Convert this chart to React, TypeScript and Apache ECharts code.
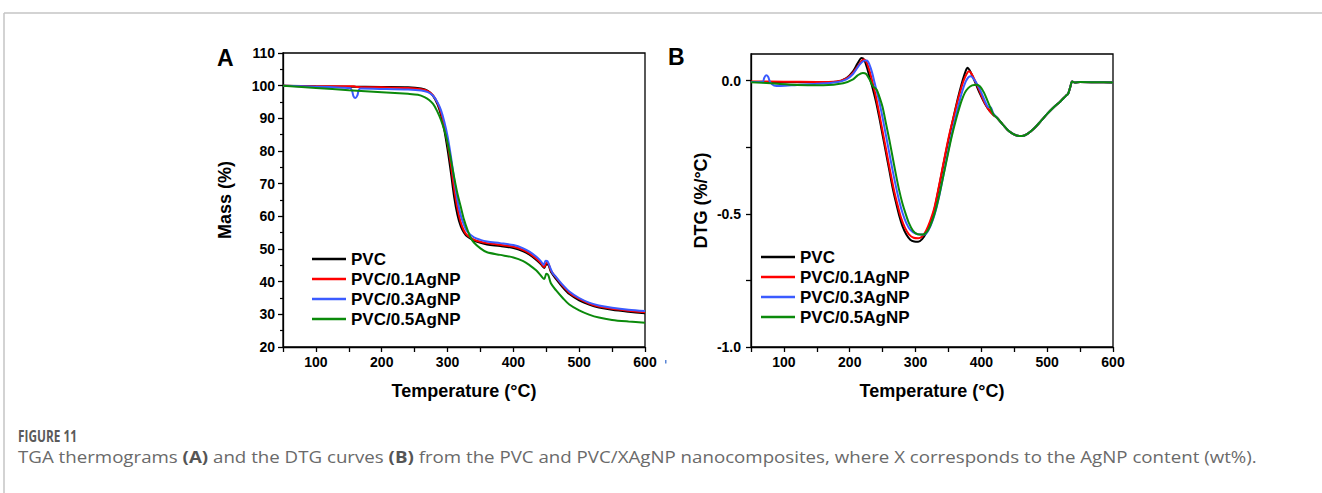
import React, { useEffect, useRef } from "react";
import * as echarts from "echarts";

// ---------- DATA ----------
const seriesNames = ["PVC", "PVC/0.1AgNP", "PVC/0.3AgNP", "PVC/0.5AgNP"];
const seriesColors = ["#000000", "#ff0000", "#3b5bff", "#0b8a0b"];

const xTicks = [100, 200, 300, 400, 500, 600];
const massTicks = [20, 30, 40, 50, 60, 70, 80, 90, 100, 110];
const dtgLabelTicks = [-1, -0.5, 0];
const dtgTicks = [-1, -0.75, -0.5, -0.25, 0];

// TGA (Mass %) [temperature, mass]
const tgaPVC = [
  [50, 100], [100, 99.8], [150, 99.7], [200, 99.6], [240, 99.5], [260, 99.1], [270, 98.4], [278, 96.9],
  [285, 94.2], [290, 91], [295, 86.5], [300, 80.5], [305, 73.5], [310, 66], [315, 60.5], [320, 57],
  [325, 55], [330, 53.8], [340, 52.6], [350, 51.9], [360, 51.4], [380, 50.9], [400, 50.3], [415, 49.3],
  [425, 48.2], [435, 46.6], [442, 45.3], [447, 44.2], [450, 45.3], [453, 45.2], [457, 43], [465, 40.8],
  [475, 38.3], [485, 36.2], [500, 34.3], [515, 33], [530, 32.1], [550, 31.4], [575, 30.8], [600, 30.3],
];
const tga01 = [
  [50, 100], [100, 99.8], [150, 99.8], [158, 99.8], [162, 99.6], [200, 99.5], [240, 99.3], [260, 98.9],
  [270, 98.3], [278, 97], [285, 94.6], [290, 91.8], [295, 87.8], [300, 82.5], [305, 76], [310, 68.5],
  [315, 62.5], [320, 58.2], [325, 55.6], [330, 54.2], [340, 52.9], [350, 52.2], [360, 51.8], [380, 51.3],
  [400, 50.7], [415, 49.7], [425, 48.6], [435, 47], [442, 45.6], [447, 44.5], [450, 45.7], [453, 45.6],
  [457, 43.4], [465, 41.2], [475, 38.7], [485, 36.6], [500, 34.7], [515, 33.3], [530, 32.4], [550, 31.7],
  [575, 31.1], [600, 30.6],
];
const tga03 = [
  [50, 100], [100, 99.7], [140, 99.4], [152, 99.2], [155, 98.4], [157, 96.8], [160, 96.2], [163, 97],
  [165, 98.6], [168, 99.1], [200, 99], [240, 98.8], [260, 98.5], [270, 98], [278, 96.9], [285, 94.8],
  [290, 92.5], [295, 89], [300, 84.5], [305, 78.5], [310, 71.5], [315, 65], [320, 60.3], [325, 57.3],
  [330, 55.3], [340, 53.6], [350, 52.8], [360, 52.3], [380, 51.8], [400, 51.2], [415, 50.2], [425, 49.1],
  [435, 47.6], [442, 46.2], [446, 45.1], [449, 46.4], [452, 46.2], [456, 44.3], [460, 42.5], [465, 41.4],
  [475, 39], [485, 37], [500, 35], [515, 33.6], [530, 32.7], [550, 32], [575, 31.4], [600, 31],
];
const tga05 = [
  [50, 100], [100, 99.3], [150, 98.6], [200, 98], [240, 97.5], [255, 97.2], [265, 96.5], [272, 95.6],
  [278, 94.4], [284, 92.3], [290, 89.5], [296, 85.8], [300, 82.5], [305, 77.5], [310, 72], [315, 67],
  [320, 63], [325, 59], [330, 56], [335, 53.5], [340, 52], [350, 50.2], [360, 49], [380, 48.2],
  [400, 47.4], [415, 46.3], [425, 45], [435, 43.4], [442, 41.8], [447, 40.8], [450, 42.4], [453, 42],
  [457, 39.5], [465, 37.3], [475, 35], [485, 33], [500, 31.2], [515, 29.9], [530, 29], [550, 28.3],
  [575, 27.8], [600, 27.4],
];

// DTG (%/°C) [temperature, dtg]
const dtgTail = [
  [424, -0.14], [432, -0.163], [440, -0.185], [448, -0.2], [455, -0.207], [462, -0.208], [470, -0.2],
  [480, -0.18], [490, -0.153], [500, -0.125], [510, -0.1], [520, -0.078], [528, -0.058], [532, -0.048],
  [535, -0.025], [538, -0.003], [542, -0.007], [550, -0.005], [575, -0.006], [600, -0.007],
];
const dtgPVC = [
  [50, -0.005], [100, -0.006], [150, -0.006], [180, -0.004], [195, 0.01], [205, 0.035], [212, 0.065],
  [218, 0.085], [222, 0.078], [226, 0.05], [230, 0.015], [235, -0.03], [240, -0.08], [245, -0.14],
  [250, -0.205], [255, -0.27], [260, -0.335], [265, -0.4], [270, -0.455], [275, -0.505], [280, -0.545],
  [286, -0.578], [292, -0.597], [298, -0.604], [304, -0.605], [310, -0.595], [316, -0.572], [322, -0.535],
  [328, -0.49], [334, -0.42], [340, -0.345], [346, -0.27], [352, -0.2], [357, -0.145], [362, -0.09],
  [367, -0.04], [372, 0.005], [376, 0.035], [379, 0.048], [382, 0.04], [386, 0.02], [392, -0.015],
  [398, -0.05], [405, -0.085], [412, -0.112], [418, -0.128], ...dtgTail,
];
const dtg01 = [
  [50, -0.003], [100, -0.004], [150, -0.005], [180, -0.003], [195, 0.008], [205, 0.03], [214, 0.06],
  [221, 0.079], [225, 0.072], [229, 0.045], [233, 0.01], [238, -0.04], [243, -0.1], [248, -0.165],
  [253, -0.23], [258, -0.295], [263, -0.36], [268, -0.42], [273, -0.47], [278, -0.515], [284, -0.553],
  [290, -0.577], [297, -0.59], [304, -0.592], [310, -0.585], [316, -0.563], [322, -0.528], [328, -0.483],
  [334, -0.415], [340, -0.34], [346, -0.265], [352, -0.195], [358, -0.135], [363, -0.085], [368, -0.04],
  [373, 0.0], [378, 0.027], [381, 0.035], [384, 0.03], [388, 0.012], [394, -0.02], [400, -0.055],
  [406, -0.088], [412, -0.112], [418, -0.128], ...dtgTail,
];
const dtg03 = [
  [50, -0.005], [68, -0.004], [70, 0.01], [73, 0.02], [76, 0.015], [79, -0.005], [85, -0.018],
  [95, -0.02], [120, -0.016], [150, -0.012], [180, -0.006], [195, 0.005], [205, 0.025], [215, 0.06],
  [222, 0.075], [226, 0.076], [230, 0.06], [234, 0.03], [238, -0.01], [243, -0.06], [245, -0.08],
  [250, -0.14], [255, -0.205], [260, -0.27], [265, -0.335], [270, -0.395], [275, -0.45], [280, -0.495],
  [286, -0.535], [292, -0.56], [300, -0.574], [308, -0.578], [314, -0.578], [320, -0.56], [326, -0.525],
  [332, -0.475], [338, -0.41], [344, -0.335], [350, -0.26], [356, -0.19], [361, -0.135], [366, -0.085],
  [371, -0.04], [376, -0.005], [380, 0.012], [384, 0.016], [388, 0.008], [394, -0.015], [400, -0.045],
  [406, -0.08], [411, -0.1], [414, -0.1], [418, -0.123], ...dtgTail,
];
const dtg05 = [
  [50, -0.006], [80, -0.01], [120, -0.016], [160, -0.017], [190, -0.01], [205, 0.005], [212, 0.02],
  [220, 0.029], [225, 0.025], [230, 0.005], [235, -0.02], [241, -0.034], [245, -0.06], [250, -0.1],
  [255, -0.16], [260, -0.22], [265, -0.285], [270, -0.35], [275, -0.41], [280, -0.46], [285, -0.5],
  [290, -0.535], [296, -0.563], [303, -0.577], [311, -0.578], [318, -0.565], [324, -0.535], [330, -0.49],
  [336, -0.43], [342, -0.36], [348, -0.29], [354, -0.22], [360, -0.16], [365, -0.115], [370, -0.075],
  [375, -0.045], [380, -0.028], [386, -0.018], [393, -0.015], [398, -0.022], [404, -0.045], [410, -0.08],
  [418, -0.125], ...dtgTail,
];

const tgaData = [tgaPVC, tga01, tga03, tga05];
const dtgData = [dtgPVC, dtg01, dtg03, dtg05];

const captionTitle = "FIGURE 11";

// ---------- CHART ----------
const FONT = "'Liberation Sans', Arial, sans-serif";
const CAP_FONT = "'Open Sans', sans-serif";

function xAxisCfg(gridIndex: number) {
  return {
    type: "value",
    gridIndex,
    min: 50,
    max: 600,
    interval: 50,
    name: "Temperature (°C)",
    nameLocation: "middle",
    nameGap: 35,
    nameTextStyle: { fontFamily: FONT, fontWeight: "bold", fontSize: 18, color: "#000" },
    axisLine: { onZero: false, lineStyle: { color: "#000", width: 1.3 } },
    axisTick: { length: 5, lineStyle: { color: "#000", width: 1.3 } },
    axisLabel: {
      margin: 8,
      fontFamily: FONT,
      fontWeight: "bold",
      fontSize: 14,
      color: "#000",
      formatter: (v: number) => (xTicks.includes(v) ? String(v) : ""),
    },
    splitLine: { show: false },
  };
}

export default function App() {
  const ref = useRef<HTMLDivElement>(null);
  useEffect(() => {
    if (!ref.current) return;
    const chart = echarts.init(ref.current, undefined, { renderer: "svg" });
    const series: any[] = [];
    seriesNames.forEach((name, i) => {
      series.push({
        name,
        type: "line",
        xAxisIndex: 0,
        yAxisIndex: 0,
        data: tgaData[i],
        showSymbol: false,
        symbol: "none",
        smooth: 0.3,
        lineStyle: { color: seriesColors[i], width: 2 },
        itemStyle: { color: seriesColors[i] },
      });
      series.push({
        name,
        type: "line",
        xAxisIndex: 1,
        yAxisIndex: 1,
        data: dtgData[i],
        showSymbol: false,
        symbol: "none",
        smooth: 0.3,
        lineStyle: { color: seriesColors[i], width: 2 },
        itemStyle: { color: seriesColors[i] },
      });
    });

    const legendCommon = {
      orient: "vertical",
      icon: "rect",
      itemWidth: 34,
      itemHeight: 2.5,
      itemGap: 0,
      padding: 0,
      data: seriesNames,
      textStyle: { fontFamily: FONT, fontWeight: "bold", fontSize: 17, color: "#000", lineHeight: 20 },
      selectedMode: false,
    };

    chart.setOption({
      animation: false,
      backgroundColor: "#ffffff",
      grid: [
        { left: 283, top: 53, width: 362, height: 294, show: true, borderColor: "#000", borderWidth: 1.3, backgroundColor: "transparent" },
        { left: 751, top: 54, width: 362, height: 293, show: true, borderColor: "#000", borderWidth: 1.3, backgroundColor: "transparent" },
      ],
      xAxis: [xAxisCfg(0), xAxisCfg(1)],
      yAxis: [
        {
          type: "value",
          gridIndex: 0,
          min: 20,
          max: 110,
          interval: 10,
          name: "Mass (%)",
          nameLocation: "middle",
          nameGap: 49,
          nameRotate: 90,
          nameTextStyle: { fontFamily: FONT, fontWeight: "bold", fontSize: 18, color: "#000" },
          axisLine: { show: true, onZero: false, lineStyle: { color: "#000", width: 1.3 } },
          axisTick: { show: true, length: 5, lineStyle: { color: "#000", width: 1.3 } },
          minorTick: { show: true, splitNumber: 2, length: 3, lineStyle: { color: "#000", width: 1.2 } },
          axisLabel: {
            margin: 8,
            fontFamily: FONT,
            fontWeight: "bold",
            fontSize: 14,
            color: "#000",
            formatter: (v: number) => (massTicks.includes(v) ? String(v) : ""),
          },
          splitLine: { show: false },
          minorSplitLine: { show: false },
        },
        {
          type: "value",
          gridIndex: 1,
          min: -1,
          max: 0.1,
          interval: 0.25,
          name: "DTG (%/°C)",
          nameLocation: "middle",
          nameGap: 41,
          nameRotate: 90,
          nameTextStyle: { fontFamily: FONT, fontWeight: "bold", fontSize: 18, color: "#000" },
          axisLine: { show: true, onZero: false, lineStyle: { color: "#000", width: 1.3 } },
          axisTick: { show: true, length: 5, customValues: dtgTicks, lineStyle: { color: "#000", width: 1.3 } },
          axisLabel: {
            margin: 10,
            fontFamily: FONT,
            fontWeight: "bold",
            fontSize: 14,
            color: "#000",
            customValues: dtgLabelTicks,
            formatter: (v: number) =>
              dtgLabelTicks.some((t) => Math.abs(t - v) < 1e-9) ? (Math.abs(v) < 1e-9 ? "0.0" : v.toFixed(1)) : "",
          },
          splitLine: { show: false },
        },
      ],
      legend: [
        { ...legendCommon, left: 312, top: 249 },
        { ...legendCommon, left: 761, top: 247 },
      ],
      series,
      graphic: [
        { type: "line", shape: { x1: 4, y1: 13, x2: 1322, y2: 13 }, style: { stroke: "#c4c4c4", lineWidth: 1.5 } },
        { type: "line", shape: { x1: 4, y1: 13, x2: 4, y2: 493 }, style: { stroke: "#c4c4c4", lineWidth: 1.5 } },
        {
          type: "text",
          left: 217,
          top: 46,
          style: { text: "A", fontFamily: FONT, fontWeight: "bold", fontSize: 23, fill: "#000" },
        },
        {
          type: "text",
          left: 668,
          top: 45,
          style: { text: "B", fontFamily: FONT, fontWeight: "bold", fontSize: 23, fill: "#000" },
        },
        { type: "rect", shape: { x: 665, y: 360, width: 1.5, height: 3.5 }, style: { fill: "#5a86d6" } },
        {
          type: "text",
          x: 18,
          y: 436,
          scaleX: 0.74,
          style: {
            text: captionTitle,
            fontFamily: CAP_FONT,
            fontWeight: "bold",
            fontSize: 16,
            fill: "#5a5a5a",
            align: "left",
            verticalAlign: "middle",
          },
        },
        {
          type: "text",
          x: 18,
          y: 456,
          scaleX: 1.12,
          style: {
            align: "left",
            verticalAlign: "middle",
            rich: {
              n: { fontFamily: CAP_FONT, fontSize: 16.7, fill: "#6a6a6a" },
              b: { fontFamily: CAP_FONT, fontSize: 16.7, fontWeight: "bold", fill: "#555555" },
            },
            text:
              "{n|TGA thermograms }{b|(A)}{n| and the DTG curves }{b|(B)}{n| from the PVC and PVC/XAgNP nanocomposites, where X corresponds to the AgNP content (wt%).}",
          },
        },
      ],
    });
    return () => chart.dispose();
  }, []);
  return (
    <div
      ref={ref}
      style={{ position: "absolute", left: 0, top: 0, width: 1322, height: 493, background: "#fff" }}
    />
  );
}
